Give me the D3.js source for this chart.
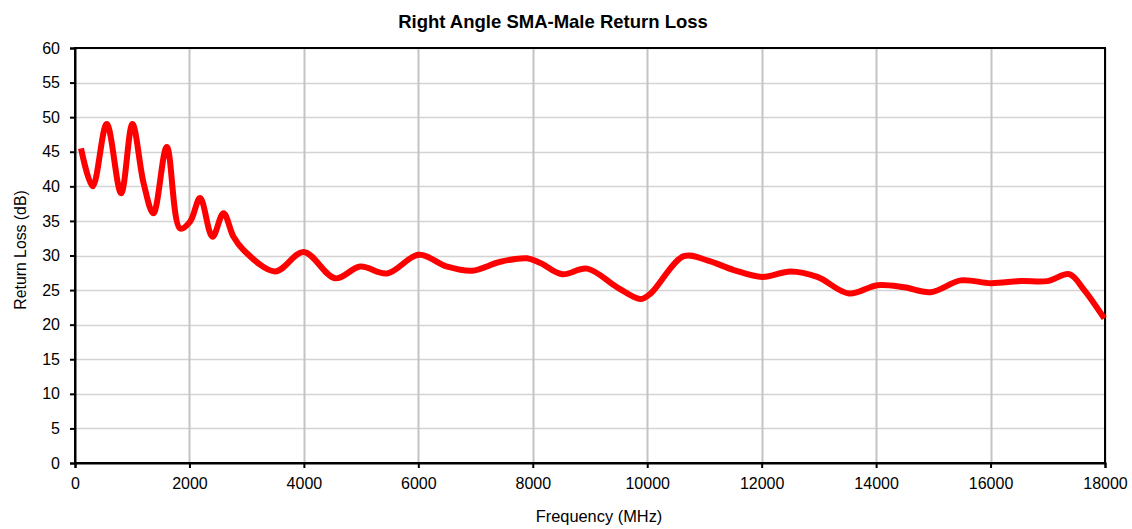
<!DOCTYPE html>
<html>
<head>
<meta charset="utf-8">
<title>Right Angle SMA-Male Return Loss</title>
<style>
  body { margin: 0; background: #fff; }
  text { font-family: "Liberation Sans", Arial, sans-serif; fill: #000; }
</style>
</head>
<body>
<script src="https://cdn.jsdelivr.net/npm/d3@7/dist/d3.min.js"></script>
<script>
// data (MHz, dB)
var freqs = [105, 309, 554, 805, 1003, 1200, 1370, 1604, 1837, 2012, 2186, 2402, 2594, 2770, 2944,
             3498, 3994, 4548, 4985, 5452, 6005, 6502, 6939, 7434, 7901, 8134, 8513, 8950, 9475,
             9883, 10058, 10640, 11048, 11515, 12011, 12506, 12973, 13527, 14023, 14489, 14956,
             15480, 16005, 16530, 16997, 17375, 17637, 17987];
var returnLoss = [45.5, 40.0, 49.0, 39.0, 49.0, 40.4, 36.1, 45.7, 33.9, 34.9, 38.3, 32.7, 36.1, 32.7, 30.8,
                  27.7, 30.5, 26.7, 28.4, 27.4, 30.1, 28.4, 27.8, 29.1, 29.6, 28.9, 27.3, 28.1, 25.4,
                  23.7, 24.5, 29.9, 29.3, 27.9, 26.9, 27.7, 26.9, 24.5, 25.7, 25.4, 24.7,
                  26.4, 26.0, 26.3, 26.3, 27.3, 25.0, 20.9];
var xTicks = [0, 2000, 4000, 6000, 8000, 10000, 12000, 14000, 16000, 18000];
var yTicks = [0, 5, 10, 15, 20, 25, 30, 35, 40, 45, 50, 55, 60];

var W = 1132, H = 529;
var margin = { top: 48, right: 27, bottom: 66, left: 75 };
var width = W - margin.left - margin.right,
    height = H - margin.top - margin.bottom;

var data = freqs.map(function(f, i) { return { f: f, rl: returnLoss[i] }; });

var x = d3.scaleLinear().domain([0, 18000]).range([0, width]);
var y = d3.scaleLinear().domain([0, 60]).range([height, 0]);

var svg = d3.select("body").append("svg")
    .attr("width", W)
    .attr("height", H);

var g = svg.append("g")
    .attr("transform", "translate(" + margin.left + "," + margin.top + ")");

// gridlines
g.selectAll(".hgrid").data(yTicks.slice(1))
  .enter().append("line")
    .attr("x1", 0).attr("x2", width)
    .attr("y1", function(d) { return Math.round(y(d)) + 0.5; })
    .attr("y2", function(d) { return Math.round(y(d)) + 0.5; })
    .attr("stroke", "#d4d4d4").attr("stroke-width", 1.5);

g.selectAll(".vgrid").data(xTicks.slice(1))
  .enter().append("line")
    .attr("y1", 0).attr("y2", height)
    .attr("x1", function(d) { return Math.round(x(d)) + 0.5; })
    .attr("x2", function(d) { return Math.round(x(d)) + 0.5; })
    .attr("stroke", "#c4c4c4").attr("stroke-width", 2);

// frame
g.append("rect")
    .attr("x", 0).attr("y", 0)
    .attr("width", width).attr("height", height)
    .attr("fill", "none").attr("stroke", "#000").attr("stroke-width", 2);

// axes
var xAxis = d3.axisBottom(x).tickValues(xTicks).tickSize(5).tickPadding(10).tickFormat(d3.format("d"));
var yAxis = d3.axisLeft(y).tickValues(yTicks).tickSize(5).tickPadding(10);

var gx = g.append("g")
    .attr("transform", "translate(0," + height + ")")
    .call(xAxis);
var gy = g.append("g").call(yAxis);

[gx, gy].forEach(function(a) {
  a.select(".domain").attr("stroke", "#000").attr("stroke-width", 2);
  a.selectAll(".tick line").attr("stroke", "#000").attr("stroke-width", 2);
  a.selectAll(".tick text").style("font-size", "16px").attr("fill", "#000");
});

// the curve
var line = d3.line()
    .x(function(d) { return x(d.f); })
    .y(function(d) { return y(d.rl); })
    .curve(d3.curveCatmullRom.alpha(0.5));

g.append("path")
    .datum(data)
    .attr("d", line)
    .attr("fill", "none")
    .attr("stroke", "#ff0000")
    .attr("stroke-width", 6)
    .attr("stroke-linejoin", "round")
    .attr("stroke-linecap", "butt");

// labels
svg.append("text")
    .attr("x", 553).attr("y", 28)
    .attr("text-anchor", "middle")
    .style("font-size", "18.5px").style("font-weight", "bold")
    .text("Right Angle SMA-Male Return Loss");

svg.append("text")
    .attr("x", 599).attr("y", 522)
    .attr("text-anchor", "middle")
    .style("font-size", "16.4px")
    .text("Frequency (MHz)");

svg.append("text")
    .attr("transform", "translate(26,250) rotate(-90)")
    .attr("text-anchor", "middle")
    .style("font-size", "15.8px")
    .text("Return Loss (dB)");
</script>
</body>
</html>
